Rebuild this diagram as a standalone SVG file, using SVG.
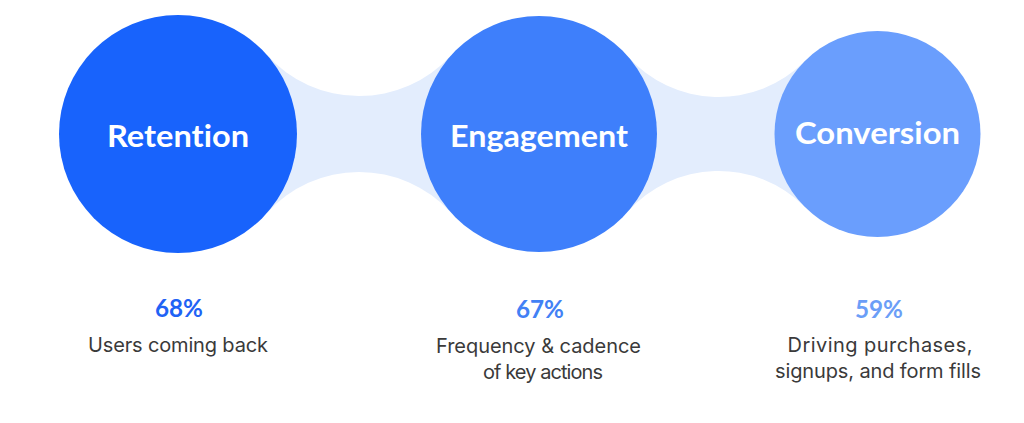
<svg xmlns="http://www.w3.org/2000/svg" width="1024" height="423" viewBox="0 0 1024 423">
<style>
.band{fill:#E3EDFD;}
.title{font-family:Lato,"Open Sans","DejaVu Sans",sans-serif;font-weight:700;font-size:31px;fill:#FFFFFF;text-anchor:middle;font-variant-ligatures:none;}
.pct{font-family:Lato,"Open Sans","DejaVu Sans",sans-serif;font-weight:700;font-size:25px;text-anchor:middle;}
.desc{font-family:Inter,Roboto,"DejaVu Sans",sans-serif;font-weight:400;font-size:20px;fill:#3A3A3A;text-anchor:middle;}
</style>
<rect width="1024" height="423" fill="#FFFFFF"/>
<g id="connectors">
<path class="band" d="M266.8,54.8 A124,124 0 0 0 450.9,55.4 L450.9,212.6 A124,124 0 0 0 266.8,213.2 Z"/>
<path class="band" d="M627.4,55.9 A121.5,121.5 0 0 0 804.6,61.3 L804.6,206.7 A121.5,121.5 0 0 0 627.4,212.1 Z"/>
</g>
<g id="retention">
<circle cx="178" cy="134" r="119" fill="#1863FC"/>
<text class="title" x="178" y="147" textLength="142" lengthAdjust="spacingAndGlyphs">Retention</text>
<text class="pct" x="179" y="317" fill="#1F63F5" textLength="48" lengthAdjust="spacingAndGlyphs">68%</text>
<text class="desc" x="178" y="352" textLength="180" lengthAdjust="spacing">Users coming back</text>
</g>
<g id="engagement">
<circle cx="539" cy="134" r="118" fill="#3E7FFB"/>
<text class="title" x="539" y="147" textLength="178" lengthAdjust="spacingAndGlyphs">Engagement</text>
<text class="pct" x="540" y="318" fill="#4281F5" textLength="48" lengthAdjust="spacingAndGlyphs">67%</text>
<text class="desc" x="538.5" y="353" textLength="205" lengthAdjust="spacing">Frequency &amp; cadence</text>
<text class="desc" x="543" y="379" textLength="120" lengthAdjust="spacing">of key actions</text>
</g>
<g id="conversion">
<circle cx="877.5" cy="134" r="103" fill="#6A9EFD"/>
<text class="title" x="877.5" y="144" textLength="165" lengthAdjust="spacingAndGlyphs">Conversion</text>
<text class="pct" x="879" y="318" fill="#6B9EF7" textLength="48" lengthAdjust="spacingAndGlyphs">59%</text>
<text class="desc" x="880" y="352" textLength="185" lengthAdjust="spacing">Driving purchases,</text>
<text class="desc" x="878" y="378" textLength="206" lengthAdjust="spacing">signups, and form fills</text>
</g>
</svg>
